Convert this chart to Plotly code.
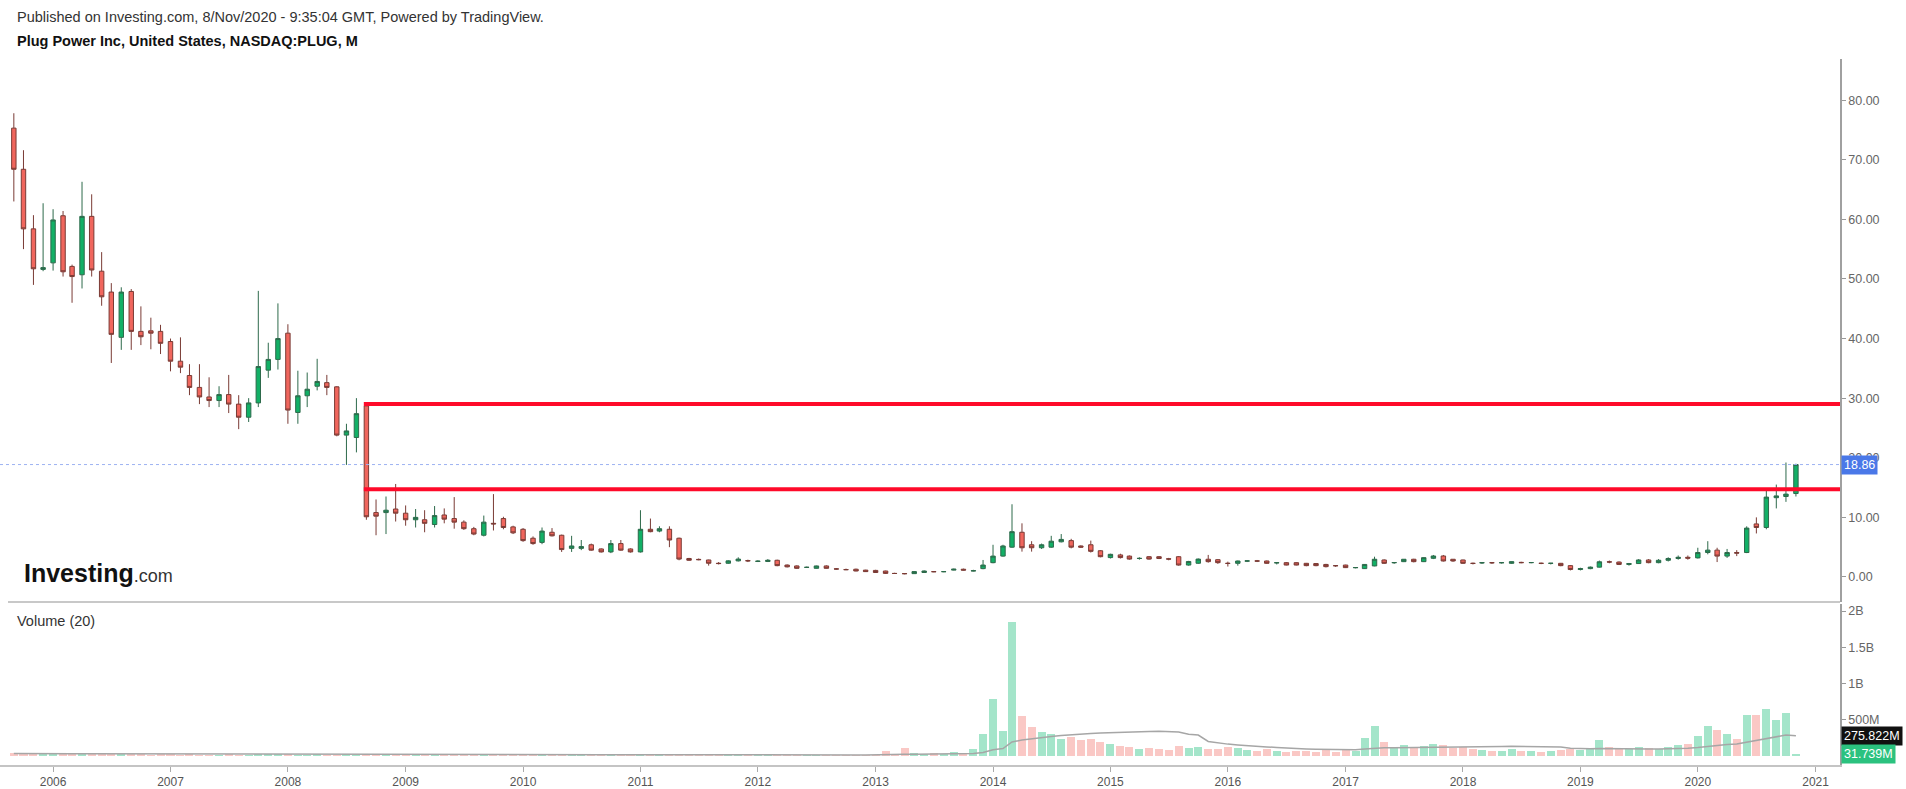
import pandas as pd
import plotly.graph_objects as go

# ---------------- data (monthly, Sep 2005 .. Nov 2020) ----------------
months = pd.date_range("2005-09-01", periods=183, freq="MS")

opens = [
    75.3, 68.4, 58.4, 51.6,
    52.7, 60.6, 52.1, 50.7, 60.5, 51.3, 47.8, 40.2, 47.9, 41.2, 41.3, 41.2,
    39.5, 36.2, 33.8, 31.8, 30.2, 29.6, 30.6, 29.0, 26.8, 29.2, 34.7, 36.5,
    40.9, 27.6, 30.4, 32.0, 32.6, 31.9, 23.8, 23.4, 28.7, 10.8, 10.8, 11.4,
    10.7, 9.6, 9.6, 8.8, 10.4, 9.8, 9.2, 8.1, 7.0, 9.0, 9.8, 8.4,
    8.0, 6.5, 5.8, 7.5, 7.0, 4.8, 4.8, 5.4, 4.7, 4.2, 5.6, 4.7,
    4.2, 8.0, 7.7, 8.0, 6.5, 3.1, 2.95, 2.85, 2.3, 2.3, 2.7, 2.75,
    2.6, 2.6, 2.8, 2.0, 1.85, 1.6, 1.45, 1.85, 1.36, 1.25, 1.3, 1.15,
    1.1, 1.0, 0.6, 0.57, 0.56, 0.75, 0.9, 0.88, 1.15, 1.3, 1.0, 1.4,
    2.4, 3.5, 5.0, 7.5, 5.4, 4.9, 5.0, 5.9, 6.1, 5.2, 5.4, 4.4,
    3.25, 3.7, 3.5, 3.1, 3.4, 3.4, 3.05, 3.4, 2.0, 2.3, 2.97, 2.9,
    2.3, 2.29, 2.65, 2.7, 2.68, 2.35, 2.4, 2.4, 2.29, 2.25, 2.1, 1.9,
    2.0, 1.55, 1.4, 1.85, 2.85, 2.38, 2.57, 2.97, 2.57, 3.13, 3.52, 2.97,
    2.85, 2.3, 2.35, 2.4, 2.38, 2.29, 2.45, 2.4, 2.3, 2.28, 2.29, 1.9,
    1.25, 1.4, 1.65, 2.55, 2.5, 2.1, 2.25, 2.85, 2.4, 2.8, 3.1, 3.3,
    3.2, 4.1, 4.5, 3.5, 4.1, 4.1, 8.9, 8.3, 13.3, 13.5, 14.0,
]
highs = [
    77.8, 71.6, 60.7, 62.7,
    61.7, 61.4, 52.4, 66.3, 64.2, 54.5, 49.3, 48.6, 48.3, 45.4, 43.5, 42.3,
    40.0, 40.2, 35.7, 35.7, 33.5, 32.0, 33.9, 30.5, 30.0, 48.0, 39.3, 45.9,
    42.4, 34.6, 34.3, 36.6, 33.9, 32.0, 25.7, 30.0, 28.9, 13.0, 13.5, 15.6,
    12.0, 11.4, 11.2, 11.9, 11.5, 13.4, 9.5, 8.4, 10.3, 13.9, 10.1, 8.6,
    8.2, 6.8, 8.3, 8.2, 7.1, 6.9, 6.2, 5.6, 4.8, 6.2, 6.2, 4.8,
    11.2, 9.8, 8.5, 8.5, 6.6, 3.2, 3.1, 2.9, 2.5, 2.8, 3.3, 2.9,
    2.8, 3.0, 2.9, 2.1, 1.95, 1.75, 1.9, 1.95, 1.5, 1.4, 1.4, 1.2,
    1.2, 1.05, 0.7, 0.65, 0.95, 1.1, 1.0, 1.0, 1.4, 1.4, 1.2, 2.85,
    5.4, 5.4, 12.2, 9.0, 6.0, 5.6, 6.9, 7.2, 6.4, 5.3, 6.1, 4.5,
    3.9, 3.9, 3.6, 3.3, 3.5, 3.5, 3.2, 3.5, 2.7, 3.1, 3.7, 3.0,
    2.57, 2.75, 2.8, 2.85, 2.75, 2.45, 2.5, 2.45, 2.35, 2.3, 2.2, 2.0,
    2.05, 1.65, 2.15, 3.4, 2.95, 2.5, 3.0, 3.05, 3.3, 3.69, 3.69, 3.0,
    2.9, 2.4, 2.5, 2.5, 2.5, 2.6, 2.55, 2.5, 2.4, 2.35, 2.35, 2.0,
    1.55, 1.75, 2.75, 2.75, 2.6, 2.35, 3.0, 3.0, 3.0, 3.3, 3.6, 3.6,
    4.9, 6.0, 4.9, 4.7, 4.5, 8.5, 10.0, 14.6, 15.5, 19.2, 19.0,
]
lows = [
    63.0, 55.0, 49.0, 51.3,
    51.4, 50.4, 46.0, 48.4, 50.4, 45.5, 35.9, 38.1, 38.1, 38.9, 38.2, 37.4,
    34.5, 34.2, 30.5, 29.0, 28.5, 28.5, 27.5, 24.8, 26.0, 28.5, 33.4, 34.8,
    25.7, 25.7, 28.5, 31.3, 30.5, 23.6, 18.8, 20.9, 9.6, 7.0, 7.2, 9.3,
    8.6, 8.3, 7.5, 8.3, 9.0, 8.1, 7.9, 7.0, 6.8, 7.8, 8.0, 7.2,
    5.9, 5.4, 5.5, 6.8, 4.2, 4.2, 4.5, 4.4, 4.1, 4.0, 4.4, 4.1,
    4.1, 7.5, 7.5, 5.0, 2.8, 2.7, 2.8, 1.9, 2.1, 2.2, 2.6, 2.5,
    2.5, 2.5, 1.8, 1.6, 1.35, 1.5, 1.4, 1.4, 1.25, 1.15, 0.95, 0.85,
    0.7, 0.5, 0.5, 0.45, 0.5, 0.7, 0.8, 0.8, 1.1, 1.1, 0.95, 1.3,
    2.3, 3.4, 4.9, 4.25, 4.25, 4.7, 4.9, 5.8, 4.8, 4.9, 4.1, 3.3,
    3.1, 3.1, 2.9, 2.9, 2.9, 3.0, 2.8, 1.9, 1.9, 2.2, 2.4, 2.2,
    1.75, 1.9, 2.5, 2.5, 2.2, 2.1, 1.95, 1.95, 1.8, 1.8, 1.6, 1.7,
    1.5, 1.45, 1.35, 1.8, 2.2, 2.2, 2.5, 2.45, 2.5, 3.0, 2.6, 2.55,
    2.2, 2.1, 2.2, 2.2, 2.25, 2.2, 2.3, 2.3, 2.15, 2.1, 1.8, 1.1,
    1.1, 1.3, 1.6, 2.3, 2.0, 1.9, 2.2, 2.3, 2.3, 2.6, 2.9, 2.9,
    3.1, 3.8, 2.5, 3.2, 3.5, 4.0, 7.3, 8.0, 11.5, 12.6, 13.5,
]
closes = [
    68.4, 58.4, 51.7, 51.9,
    59.9, 51.2, 50.4, 60.5, 51.5, 47.0, 40.7, 47.8, 41.2, 40.3, 40.9, 39.2,
    36.2, 35.2, 31.8, 30.2, 29.6, 30.6, 29.0, 26.8, 29.2, 35.3, 36.5, 40.0,
    28.0, 30.4, 31.5, 32.8, 31.8, 23.8, 24.5, 27.4, 10.1, 10.2, 11.2, 10.7,
    9.6, 10.0, 9.0, 10.3, 9.7, 9.2, 8.1, 7.2, 9.2, 8.9, 8.3, 7.4,
    6.1, 5.6, 7.7, 6.9, 4.6, 5.2, 5.1, 4.5, 4.2, 5.6, 4.5, 4.2,
    8.0, 7.6, 8.1, 6.2, 3.0, 2.8, 2.9, 2.3, 2.25, 2.7, 3.0, 2.7,
    2.65, 2.8, 1.9, 1.7, 1.45, 1.62, 1.85, 1.45, 1.33, 1.22, 1.0, 0.9,
    0.75, 0.6, 0.58, 0.55, 0.9, 1.0, 0.88, 0.9, 1.3, 1.15, 1.05, 2.0,
    3.5, 5.2, 7.6, 4.9, 4.9, 5.4, 6.0, 6.3, 5.0, 5.0, 4.3, 3.4,
    3.8, 3.25, 3.0, 3.12, 3.0, 3.1, 3.0, 2.0, 2.6, 3.0, 2.57, 2.4,
    2.27, 2.68, 2.7, 2.66, 2.29, 2.4, 2.0, 2.0, 1.9, 1.9, 1.73, 1.88,
    1.57, 1.58, 2.1, 2.97, 2.29, 2.42, 2.97, 2.57, 3.24, 3.52, 2.68, 2.68,
    2.29, 2.27, 2.4, 2.38, 2.4, 2.57, 2.4, 2.42, 2.28, 2.3, 1.9, 1.25,
    1.4, 1.65, 2.55, 2.5, 2.1, 2.25, 2.85, 2.4, 2.8, 3.1, 3.3, 3.16,
    4.1, 4.5, 3.5, 4.1, 4.0, 8.2, 8.3, 13.4, 13.6, 13.9, 18.86,
]
# volume in millions of shares
volume_m = [
    35, 30, 28, 26,
    34, 30, 24, 40, 28, 24, 32, 28, 22, 24, 20, 22,
    22, 20, 24, 18, 18, 20, 22, 20, 18, 30, 22, 26,
    26, 20, 18, 22, 18, 20, 22, 18, 30, 26, 30, 22,
    20, 18, 26, 22, 20, 18, 16, 16, 20, 26, 18, 16,
    18, 16, 20, 16, 22, 18, 16, 14, 14, 20, 16, 14,
    30, 20, 18, 18, 22, 16, 14, 18, 14, 16, 16, 14,
    14, 16, 18, 14, 16, 14, 14, 12, 12, 12, 14, 12,
    14, 75, 30, 105, 40, 30, 45, 25, 60, 35, 90, 300,
    780, 340, 1850, 550, 400, 330, 300, 230, 260, 220, 240, 200,
    160, 140, 130, 100, 110, 90, 80, 140, 110, 130, 100, 90,
    120, 110, 80, 70, 90, 70, 60, 65, 70, 60, 80, 60,
    90, 70, 250, 420, 200, 130, 150, 120, 140, 160, 150, 110,
    130, 90, 80, 70, 75, 100, 70, 65, 60, 75, 80, 90,
    80, 100, 220, 130, 100, 100, 120, 110, 100, 120, 150, 170,
    280, 420, 360, 300, 230, 560, 560, 650, 500, 600, 31.739,
]
year_ticks = [str(y) for y in range(2006, 2022)]
price_ticks = [0, 10, 20, 30, 40, 50, 60, 70, 80]
vol_tickvals = [5e8, 1e9, 1.5e9, 2e9]
vol_ticktext = ["500M", "1B", "1.5B", "2B"]
resistance_top = 29.0
resistance_bottom = 14.7
last_price = 18.86
last_volume_label = "31.739M"
vol_ma_label = "275.822M"
vol_ma_value = 275.822e6

volume = [v * 1e6 for v in volume_m]
vol_ma = pd.Series(volume).rolling(20, min_periods=1).mean()
vol_colors = ["rgba(38,194,129,0.42)" if c >= o else "rgba(242,110,102,0.38)"
              for o, c in zip(opens, closes)]

# ---------------- layout helpers (pixel -> paper) ----------------
W, H = 1906, 789
L, R, T, B = 0, 66, 59, 24
PW, PH = W - L - R, H - T - B


def px(x):
    return (x - L) / PW


def py(y):
    return (H - B - y) / PH


FONT = "Liberation Sans, Arial, sans-serif"
x_range = ["2005-07-20", "2021-03-18"]

fig = go.Figure()
fig.add_trace(go.Candlestick(
    x=months, open=opens, high=highs, low=lows, close=closes,
    increasing=dict(fillcolor="#12b066", line=dict(color="#2d6a4b", width=1)),
    decreasing=dict(fillcolor="#f0665d", line=dict(color="#7a3b35", width=1)),
    whiskerwidth=0, hoverinfo="skip", showlegend=False,
    xaxis="x", yaxis="y",
))
fig.add_trace(go.Bar(
    x=months, y=volume, marker=dict(color=vol_colors, line=dict(width=0)),
    width=25 * 86400000, hoverinfo="skip", showlegend=False,
    xaxis="x2", yaxis="y2",
))
fig.add_trace(go.Scatter(
    x=months, y=vol_ma, mode="lines", line=dict(color="#a6a6a6", width=1.5),
    hoverinfo="skip", showlegend=False, xaxis="x2", yaxis="y2",
))

price_bottom = py(602)
vol_top = py(604)

fig.update_layout(
    width=W, height=H,
    margin=dict(l=L, r=R, t=T, b=B, pad=0),
    paper_bgcolor="white", plot_bgcolor="white",
    font=dict(family=FONT, color="#555"),
    xaxis=dict(domain=[0, 1], range=x_range, type="date", anchor="y",
               showticklabels=False, showgrid=False, zeroline=False,
               rangeslider=dict(visible=False), ticks=""),
    xaxis2=dict(domain=[0, 1], matches="x", type="date", anchor="y2",
                tickvals=[f"{y}-01-01" for y in year_ticks], ticktext=year_ticks,
                ticks="outside", ticklen=5, tickcolor="#aaa",
                showline=True, linecolor="#c4c4c4", linewidth=2,
                showgrid=False, zeroline=False,
                tickfont=dict(size=12, color="#555", family=FONT)),
    yaxis=dict(domain=[price_bottom, 1], range=[-4.2, 86.9], side="right",
               anchor="x", tickvals=price_ticks, tickformat=".2f",
               ticks="outside", ticklen=4, tickcolor="#999",
               showline=True, linecolor="#a0a0a0", linewidth=1.5,
               showgrid=False, zeroline=False,
               tickfont=dict(size=12.5, color="#666", family=FONT)),
    yaxis2=dict(domain=[0, vol_top], range=[-0.124e9, 2.097e9], side="right",
                anchor="x2", tickvals=vol_tickvals, ticktext=vol_ticktext,
                ticks="outside", ticklen=4, tickcolor="#999",
                showline=True, linecolor="#a0a0a0", linewidth=1.5,
                showgrid=False, zeroline=False,
                tickfont=dict(size=12.5, color="#666", family=FONT)),
    bargap=0,
)

shapes = [
    # pane divider
    dict(type="line", xref="paper", yref="paper", x0=px(8), x1=1,
         y0=py(602), y1=py(602), line=dict(color="#c8c8c8", width=2)),
    # last price dotted line
    dict(type="line", xref="paper", yref="y", x0=0, x1=1,
         y0=last_price, y1=last_price,
         line=dict(color="#9db2f2", width=1, dash="dot")),
    # drawn resistance lines
    dict(type="line", xref="x", yref="y", x0="2008-08-24", x1=x_range[1],
         y0=resistance_top, y1=resistance_top, line=dict(color="#ff0a2a", width=4)),
    dict(type="line", xref="x", yref="y", x0="2008-08-24", x1=x_range[1],
         y0=resistance_bottom, y1=resistance_bottom, line=dict(color="#ff0a2a", width=4)),
]
fig.update_layout(shapes=shapes)

ann = [
    dict(text="Published on Investing.com, 8/Nov/2020 - 9:35:04 GMT, Powered by TradingView.",
         x=px(15), y=py(17), xanchor="left", yanchor="middle",
         font=dict(size=14.5, color="#333", family=FONT)),
    dict(text="<b>Plug Power Inc, United States, NASDAQ:PLUG, M</b>",
         x=px(15), y=py(41), xanchor="left", yanchor="middle",
         font=dict(size=14.5, color="#111", family=FONT)),
    dict(text="Volume (20)", x=px(15), y=py(621), xanchor="left", yanchor="middle",
         font=dict(size=14.5, color="#333", family=FONT)),
    dict(text="<b>Investing</b><span style='font-size:18px;color:#333'>.com</span>",
         x=px(22), y=py(573), xanchor="left", yanchor="middle",
         font=dict(size=25, color="#111", family="Liberation Sans Narrow, Liberation Sans, Arial")),
]
for a in ann:
    a.update(xref="paper", yref="paper", showarrow=False)
fig.update_layout(annotations=ann)

fig.add_annotation(text=f"{last_price:.2f}", xref="paper", yref="y", x=1, y=last_price,
                   xanchor="left", yanchor="middle", xshift=1, showarrow=False,
                   bgcolor="#4a78e8", borderpad=2,
                   font=dict(size=12.5, color="white", family=FONT))
fig.add_annotation(text=vol_ma_label, xref="paper", yref="y2", x=1, y=vol_ma_value,
                   xanchor="left", yanchor="middle", xshift=1, showarrow=False,
                   bgcolor="#111", borderpad=2,
                   font=dict(size=12.5, color="white", family=FONT))
fig.add_annotation(text=last_volume_label, xref="paper", yref="y2", x=1, y=volume[-1],
                   xanchor="left", yanchor="middle", xshift=1, showarrow=False,
                   bgcolor="#2bc27f", borderpad=2,
                   font=dict(size=12.5, color="white", family=FONT))

fig.write_html("out.html", config={"displayModeBar": False},
               post_script="document.body.style.margin='0px';")
